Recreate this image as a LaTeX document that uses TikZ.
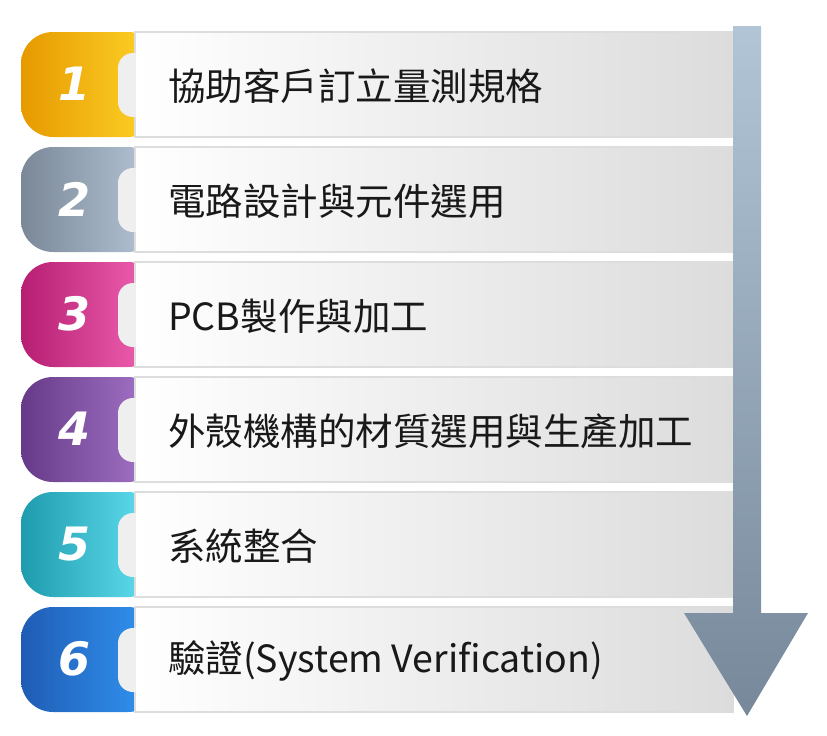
\documentclass[tikz,border=0pt]{standalone}
\usepackage{fontspec}
\setmainfont{Noto Sans CJK TC}
\newfontfamily\numfont{DejaVu Sans}
\definecolor{tabAl}{HTML}{E69A00}\definecolor{tabAr}{HTML}{FFD52A}
\definecolor{tabBl}{HTML}{7A8898}\definecolor{tabBr}{HTML}{B8C8D8}
\definecolor{tabCl}{HTML}{B61E72}\definecolor{tabCr}{HTML}{F466B6}
\definecolor{tabDl}{HTML}{663A88}\definecolor{tabDr}{HTML}{A878CC}
\definecolor{tabEl}{HTML}{1E9CAE}\definecolor{tabEr}{HTML}{66E4F6}
\definecolor{tabFl}{HTML}{1F5CB4}\definecolor{tabFr}{HTML}{3298F6}
\definecolor{notchgray}{HTML}{EFEFEF}
\definecolor{barmid}{HTML}{ECECEC}
\definecolor{barright}{HTML}{DCDCDC}
\definecolor{barline}{HTML}{DDDDDD}
\definecolor{arrowtop}{HTML}{B2C5D6}
\definecolor{arrowbot}{HTML}{76889A}
\tikzset{
  numtext/.style={text=white, font=\numfont\bfseries\itshape\fontsize{46}{46}\selectfont, inner sep=0pt},
  steptext/.style={text=black!90, font=\fontsize{37.5}{37.5}\selectfont, inner sep=0pt, anchor=west},
}
\begin{document}
\begin{tikzpicture}[x=1pt,y=-1pt]
  \useasboundingbox (0,0) rectangle (827,736);
  \foreach \i/\cl/\cr/\txt in {1/tabA/tabAr/{協助客戶訂立量測規格},
                               2/tabB/tabBr/{電路設計與元件選用},
                               3/tabC/tabCr/{PCB製作與加工},
                               4/tabD/tabDr/{外殼機構的材質選用與生產加工},
                               5/tabE/tabEr/{系統整合},
                               6/tabF/tabFr/{驗證(System Verification)}}{
    \pgfmathsetmacro\rowtop{32+115*(\i-1)}
    % colored tab
    \shade[left color=\cl l, right color=\cr, rounded corners=32pt] (21,\rowtop) rectangle (160,\rowtop+105);
    % notch
    \fill[notchgray, rounded corners=15pt] (118,\rowtop+21) rectangle (150,\rowtop+85);
    % bar
    \shade[left color=white, middle color=barmid, right color=barright, draw=barline, line width=1.2pt] (135,\rowtop) rectangle (733,\rowtop+105);
    \fill[notchgray] (133,\rowtop+21) rectangle (135.5,\rowtop+85);
    \node[numtext] (num\i) at (75,\rowtop+52) {\i};
    \node[steptext] (lab\i) at (168,\rowtop+54) {\txt};
  }
  % arrow
  \shade[top color=arrowtop, bottom color=arrowbot]
    (733,26) -- (761,26) -- (761,613) -- (808,613) -- (747,716) -- (684,613) -- (733,613) -- cycle;
\end{tikzpicture}
\end{document}
